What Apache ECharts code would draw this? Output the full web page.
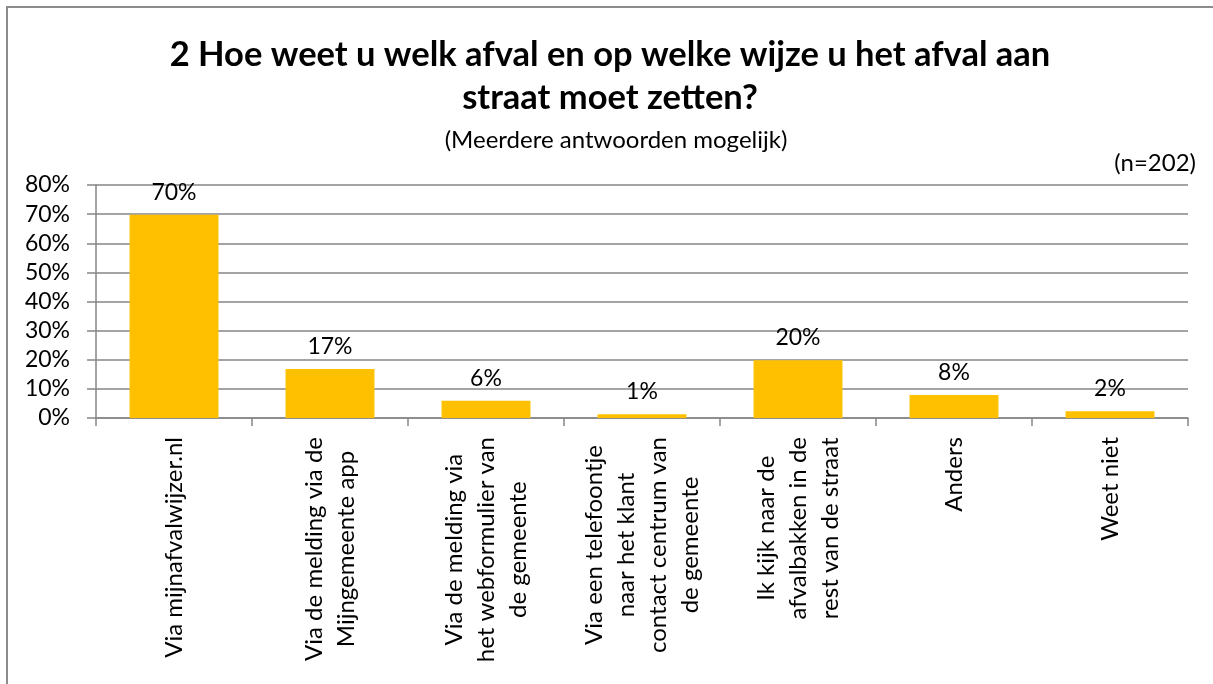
<!DOCTYPE html>
<html>
<head>
<meta charset="utf-8">
<script src="https://cdn.jsdelivr.net/npm/echarts@6/dist/echarts.min.js"></script>
<style>
  html, body { margin: 0; padding: 0; background: #fff; }
  #chart { width: 1213px; height: 684px; }
</style>
</head>
<body>
<div id="chart"></div>
<script>
// categorieen (regelafbreking zoals in de grafiek)
var categories = [
    'Via mijnafvalwijzer.nl',
    'Via de melding via de\nMijngemeente app',
    'Via de melding via\nhet webformulier van\nde gemeente',
    'Via een telefoontje\nnaar het klant\ncontact centrum van\nde gemeente',
    'Ik kijk naar de\nafvalbakken in de\nrest van de straat',
    'Anders',
    'Weet niet'
];
// percentages
var values = [69.8, 16.8, 5.9, 1.3, 19.8, 7.9, 2.3];
var yTicks = [0, 10, 20, 30, 40, 50, 60, 70, 80];

var titleText = '2 Hoe weet u welk afval en op welke wijze u het afval aan\nstraat moet zetten?';
var subText = '(Meerdere antwoorden mogelijk)';
var nText = '(n=202)';

var font = 'Lato, "Open Sans", sans-serif';
var grey = '#868686';

var myChart = echarts.init(document.getElementById('chart'));
var option;

option = {
    backgroundColor: '#fff',
    animation: false,
    textStyle: { fontFamily: font },
    graphic: [{
        type: 'rect',
        shape: { x: 7, y: 7, width: 1230, height: 700 },
        style: { fill: 'none', stroke: '#8c8c8c', lineWidth: 2 },
        silent: true
    }],
    title: [{
        text: titleText,
        left: 610,
        top: 33,
        textAlign: 'center',
        padding: 0,
        textStyle: { fontFamily: font, fontSize: 34.5, fontWeight: 'bold', color: '#000', lineHeight: 43 }
    }, {
        text: subText,
        left: 616,
        top: 126,
        textAlign: 'center',
        padding: 0,
        textStyle: { fontFamily: font, fontSize: 24, fontWeight: 'normal', color: '#000', lineHeight: 28 }
    }, {
        text: nText,
        right: 17,
        top: 149,
        padding: 0,
        textStyle: { fontFamily: font, fontSize: 24, fontWeight: 'normal', color: '#000', lineHeight: 28 }
    }],
    grid: {
        left: 96,
        right: 25,
        top: 185,
        bottom: 266
    },
    xAxis: {
        type: 'category',
        data: categories,
        axisLine: { show: true, lineStyle: { color: grey, width: 1.5 } },
        axisTick: { show: true, length: 8, lineStyle: { color: grey, width: 1.5 } },
        axisLabel: {
            interval: 0,
            rotate: 90,
            margin: 19,
            color: '#000',
            fontFamily: font,
            fontSize: 24,
            lineHeight: 32,
            // elke regel apart centreren
            formatter: function (v) {
                return v.split('\n').map(function (l) { return '{c|' + l + '}'; }).join('\n');
            },
            rich: {
                c: { align: 'center', fontFamily: font, fontSize: 24, lineHeight: 32, color: '#000' }
            }
        }
    },
    yAxis: {
        type: 'value',
        min: yTicks[0],
        max: yTicks[yTicks.length - 1],
        interval: 10,
        axisLine: { show: true, lineStyle: { color: grey, width: 1.5 } },
        axisTick: { show: true, length: 9, lineStyle: { color: grey, width: 1.5 } },
        splitLine: { show: true, lineStyle: { color: grey, width: 1.5 } },
        axisLabel: {
            margin: 26,
            color: '#000',
            fontFamily: font,
            fontSize: 23,
            formatter: '{value}%'
        }
    },
    series: [{
        type: 'bar',
        data: values,
        barWidth: '57%',
        itemStyle: { color: '#FFC000' },
        label: {
            show: true,
            position: 'top',
            distance: 11,
            color: '#000',
            fontFamily: font,
            fontSize: 23,
            formatter: function (p) {
                return Math.round(p.value) + '%';
            }
        }
    }]
};

if (option && typeof option === 'object') {
    myChart.setOption(option);
}
</script>
</body>
</html>
